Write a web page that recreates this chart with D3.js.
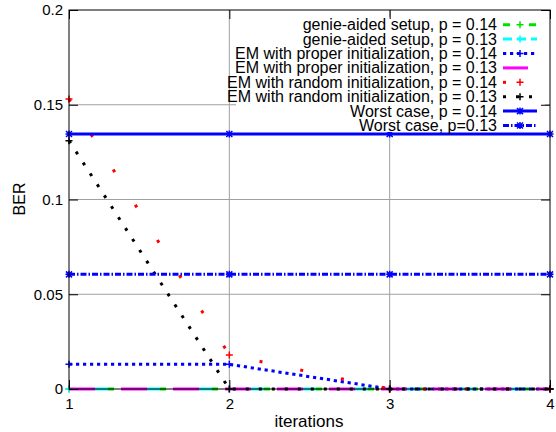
<!DOCTYPE html>
<html>
<head>
<meta charset="utf-8">
<script src="https://cdn.jsdelivr.net/npm/d3@7"></script>
<style>
  body { margin: 0; background: #fff; }
  text { font-family: "Liberation Sans", Arial, sans-serif; font-size: 16px; fill: #000; }
</style>
</head>
<body>
<div id="chart"></div>
<script>
// data
var iterations = [1, 2, 3, 4];
var genie14 = [0, 0, 0, 0];
var genie13 = [0, 0, 0, 0];
var emProper14 = [0.013, 0.013, 0, 0];
var emProper13 = [0, 0, 0, 0];
var emRandom14 = [0.153, 0.018, 0, 0];
var emRandom13 = [0.131, 0, 0, 0];
var worst14 = [0.1346, 0.1346, 0.1346, 0.1346];
var worst13 = [0.0605, 0.0605, 0.0605, 0.0605];

var seriesNames = [
  "genie-aided setup, p = 0.14",
  "genie-aided setup, p = 0.13",
  "EM with proper initialization, p = 0.14",
  "EM with proper initialization, p = 0.13",
  "EM with random initialization, p = 0.14",
  "EM with random initialization, p = 0.13",
  "Worst case, p = 0.14",
  "Worst case, p=0.13"
];
var seriesValues = [genie14, genie13, emProper14, emProper13, emRandom14, emRandom13, worst14, worst13];

var xTicks = [1, 2, 3, 4];
var yTicks = [0, 0.05, 0.1, 0.15, 0.2];

var svgWidth = 556;
var svgHeight = 432;
var margin = {top: 10, right: 6, bottom: 43, left: 69};
var chart_width = svgWidth - margin.left - margin.right;
var chart_height = svgHeight - margin.top - margin.bottom;

// line styles, one per series
var styles = [
  {color: "#00e000", width: 3, dash: "0,39,6,7", legDash: "7,19", marker: "plus"},
  {color: "#00ffff", width: 3, dash: "0,26,13,13", legDash: "9,5", marker: "plus"},
  {color: "#0000ff", width: 3, dash: "3.2,3.8", legDash: "3.2,3.8", marker: "plus"},
  {color: "#ff00ff", width: 3, dash: "26,26", legDash: "25,30", marker: null},
  {color: "#ff0000", width: 3, dash: "3,38.6", legDash: "3,38.6", marker: "plus"},
  {color: "#000000", width: 3, dash: "3,10", legDash: "3,10", marker: "plus"},
  {color: "#0000ff", width: 3, dash: null, legDash: null, marker: "star"},
  {color: "#0000ff", width: 3, dash: "6,2,1.5,2", legDash: "6,2,1.5,2", marker: "star"}
];

var svg = d3.select("#chart")
  .append("svg")
  .attr("width", svgWidth)
  .attr("height", svgHeight);

var g = svg.append("g")
  .attr("transform", `translate(${margin.left}, ${margin.top})`);

var x = d3.scaleLinear().domain([1, 4]).range([0, chart_width]);
var y = d3.scaleLinear().domain([0, 0.2]).range([chart_height, 0]);

// grid
g.append("g")
  .selectAll("line")
  .data(yTicks.filter(d => d > 0 && d < 0.2))
  .enter()
  .append("line")
  .attr("x1", 0).attr("x2", chart_width)
  .attr("y1", d => y(d)).attr("y2", d => y(d))
  .style("stroke", "#a0a0a0").style("stroke-width", 1);

g.append("g")
  .selectAll("line")
  .data(xTicks.filter(d => d > 1 && d < 4))
  .enter()
  .append("line")
  .attr("y1", 0).attr("y2", chart_height)
  .attr("x1", d => x(d)).attr("x2", d => x(d))
  .style("stroke", "#a0a0a0").style("stroke-width", 1);

// series
var line = d3.line()
  .x((d, i) => x(iterations[i]))
  .y(d => y(d));

function drawMarker(sel, kind, color, cx, cy) {
  var s = 3.5;
  var p = `M${cx - s},${cy}H${cx + s}M${cx},${cy - s}V${cy + s}`;
  if (kind === "star") {
    p += `M${cx - 3},${cy - 3}L${cx + 3},${cy + 3}M${cx - 3},${cy + 3}L${cx + 3},${cy - 3}`;
  }
  sel.append("path")
    .attr("d", p)
    .style("fill", "none")
    .style("stroke", color)
    .style("stroke-width", 1.5);
}

seriesValues.forEach(function(vals, k) {
  var st = styles[k];
  g.append("path")
    .datum(vals)
    .attr("d", line)
    .style("fill", "none")
    .style("stroke", st.color)
    .style("stroke-width", st.width)
    .style("stroke-dasharray", st.dash);
  if (st.marker) {
    vals.forEach(function(v, i) {
      drawMarker(g, st.marker, st.color, x(iterations[i]), y(v));
    });
  }
});

// legend (opaque)
var legX = 497;
var legY0 = 14.7;
var legStep = 14.4;
g.append("rect")
  .attr("x", 236 - margin.left)
  .attr("y", 17 - margin.top)
  .attr("width", 545 - 236)
  .attr("height", 132 - 17)
  .style("fill", "#fff");

seriesNames.forEach(function(name, k) {
  var st = styles[k];
  var ly = legY0 + k * legStep;
  g.append("text")
    .attr("x", legX - margin.left)
    .attr("y", ly + 5.5)
    .attr("text-anchor", "end")
    .text(name);
  g.append("line")
    .attr("x1", 503 - margin.left).attr("x2", 537 - margin.left)
    .attr("y1", ly).attr("y2", ly)
    .style("stroke", st.color)
    .style("stroke-width", st.width)
    .style("stroke-dasharray", st.legDash);
  if (st.marker) drawMarker(g, st.marker, st.color, 520 - margin.left, ly);
});

// border
g.append("rect")
  .attr("width", chart_width)
  .attr("height", chart_height)
  .style("fill", "none")
  .style("stroke", "#000")
  .style("stroke-width", 1);

// axes, ticks inward on both sides like gnuplot
var tickLen = 9;
g.append("g")
  .attr("transform", `translate(0, ${chart_height})`)
  .call(d3.axisBottom(x).tickValues(xTicks).tickSizeInner(-tickLen).tickSizeOuter(0).tickPadding(9).tickFormat(d3.format("d")))
  .call(a => a.select(".domain").remove());
g.append("g")
  .call(d3.axisTop(x).tickValues(xTicks).tickSizeInner(-tickLen).tickSizeOuter(0).tickFormat(""))
  .call(a => a.select(".domain").remove());
g.append("g")
  .call(d3.axisLeft(y).tickValues(yTicks).tickSizeInner(-tickLen).tickSizeOuter(0).tickPadding(6).tickFormat(d => d3.format("")(d)))
  .call(a => a.select(".domain").remove());
g.append("g")
  .attr("transform", `translate(${chart_width}, 0)`)
  .call(d3.axisRight(y).tickValues(yTicks).tickSizeInner(-tickLen).tickSizeOuter(0).tickFormat(""))
  .call(a => a.select(".domain").remove());

g.selectAll(".tick line").style("stroke", "#000");
g.selectAll(".tick text").style("font-size", "15px").style("font-family", "Liberation Sans, Arial, sans-serif");

// axis labels
g.append("text")
  .attr("x", 309 - margin.left)
  .attr("y", chart_height + 38)
  .attr("text-anchor", "middle")
  .style("font-size", "17px")
  .text("iterations");

g.append("text")
  .attr("transform", "rotate(-90)")
  .attr("x", -(199 - margin.top))
  .attr("y", 25 - margin.left)
  .attr("text-anchor", "middle")
  .text("BER");
</script>
</body>
</html>
